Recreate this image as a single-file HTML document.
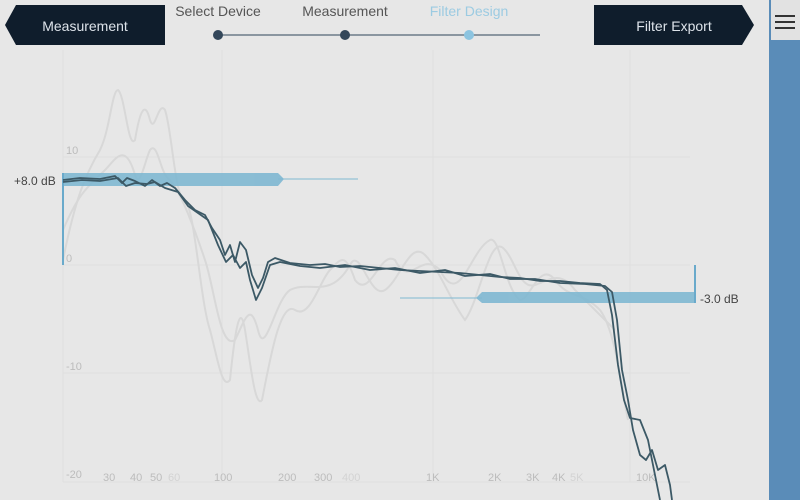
<!DOCTYPE html>
<html><head><style>
body{margin:0;width:800px;height:500px;overflow:hidden;background:#e7e7e7;font-family:"Liberation Sans",sans-serif;}
</style></head><body>
<svg width="800" height="500" viewBox="0 0 800 500" xmlns="http://www.w3.org/2000/svg" style="position:absolute;left:0;top:0">
<rect width="800" height="500" fill="#e7e7e7"/>
<g stroke="#dfdfdf" stroke-width="1">
<line x1="63" y1="157" x2="690" y2="157"/><line x1="63" y1="265" x2="690" y2="265"/><line x1="63" y1="373" x2="690" y2="373"/><line x1="63" y1="482" x2="690" y2="482"/>
<line x1="63" y1="50" x2="63" y2="482"/><line x1="222" y1="50" x2="222" y2="482"/><line x1="433" y1="50" x2="433" y2="482"/><line x1="630" y1="50" x2="630" y2="482"/>
</g>
<g font-size="11" fill="#bcbcbc">
<text x="66" y="154">10</text><text x="66" y="262">0</text><text x="66" y="370">-10</text><text x="66" y="478">-20</text>
<text x="103" y="481">30</text><text x="130" y="481">40</text><text x="150" y="481">50</text><text x="168" y="481" fill="#d3d3d3">60</text>
<text x="214" y="481">100</text><text x="278" y="481">200</text><text x="314" y="481">300</text><text x="342" y="481" fill="#d3d3d3">400</text>
<text x="426" y="481">1K</text><text x="488" y="481">2K</text><text x="526" y="481">3K</text><text x="552" y="481">4K</text><text x="570" y="481" fill="#d3d3d3">5K</text><text x="636" y="481">10K</text>
</g>
<g fill="none" stroke="#d8d8d8" stroke-width="2">
<path d="M63,260 C75,200 85,175 100,150 C110,130 112,90 118,90 C125,95 128,150 135,140 C140,110 145,100 150,120 C155,135 158,100 165,110 C172,130 175,200 185,200 C195,210 200,300 210,330 C218,360 222,390 230,380 C235,330 240,300 245,330 C250,360 255,410 262,400 C270,360 280,300 295,310 C310,320 320,280 330,270 C340,260 345,250 355,280 C370,300 380,250 395,260 C410,290 420,250 440,270 C460,310 470,250 490,240 C500,235 505,290 520,300 C530,300 540,260 555,280 C570,300 580,290 600,310 C615,330 620,380 628,420"/>
<path d="M63,230 C80,190 90,185 105,170 C115,160 125,140 135,175 C140,190 145,160 150,150 C158,140 160,175 170,180 C180,190 195,230 205,260 C215,290 220,350 235,340 C245,320 250,300 258,330 C265,360 275,300 290,290 C310,280 330,300 350,265 C360,245 370,300 385,290 C400,280 410,240 425,255 C440,270 450,300 465,320 C480,300 490,230 505,250 C515,260 520,290 535,285 C550,280 560,270 575,290 C590,305 600,315 615,330"/>
</g>
<g opacity="0.9">
<rect x="63" y="173" width="215" height="13" fill="#7fb8d2"/>
<path d="M278,173 L284,179 L278,186 Z" fill="#7fb8d2"/>
<rect x="482" y="292" width="213" height="11" fill="#7fb8d2"/>
<path d="M482,292 L476,298 L482,303 Z" fill="#7fb8d2"/>
</g>
<line x1="278" y1="179" x2="358" y2="179" stroke="#7fb8d2" stroke-width="1"/>
<line x1="63" y1="173" x2="63" y2="265" stroke="#6aaacb" stroke-width="2"/>
<line x1="400" y1="298" x2="482" y2="298" stroke="#7fb8d2" stroke-width="1"/>
<line x1="695" y1="265" x2="695" y2="303" stroke="#6aaacb" stroke-width="2"/>
<text x="14" y="185" font-size="12" fill="#444">+8.0 dB</text>
<text x="700" y="303" font-size="12" fill="#444">-3.0 dB</text>
<g fill="none" stroke="#3c5966" stroke-width="1.8" stroke-linejoin="round">
<path d="M63,180 L80,178 L100,179 L115,176 L122,183 L127,178 L135,181 L145,186 L152,180 L160,186 L167,183 L175,188 L185,200 L195,210 L205,215 L212,228 L220,240 L225,255 L230,245 L235,262 L240,242 L246,250 L252,275 L258,288 L263,278 L268,262 L275,258 L290,263 L310,265 L325,264 L340,267 L360,266 L380,268 L400,270 L420,271 L440,272 L460,273 L480,275 L500,277 L520,278 L540,281 L560,281 L580,283 L600,284 L607,290 L612,315 L618,365 L624,400 L630,418 L640,420 L648,440 L655,475 L660,500"/>
<path d="M63,182 L82,180 L100,181 L118,178 L126,186 L135,183 L147,184 L155,182 L165,188 L178,192 L188,206 L198,213 L208,220 L218,245 L226,262 L233,255 L240,268 L246,262 L250,280 L256,300 L262,288 L270,265 L280,262 L300,266 L320,268 L345,265 L370,270 L395,268 L420,273 L445,270 L465,276 L490,274 L510,279 L535,279 L560,283 L585,284 L605,286 L612,292 L617,320 L622,370 L628,400 L633,430 L640,455 L646,460 L652,450 L658,470 L665,465 L670,485 L672,500"/>
</g>
<path d="M16,5 L165,5 L165,45 L16,45 L5,25 Z" fill="#0f1d2c"/>
<text x="85" y="31" font-size="14" fill="#dde3ea" text-anchor="middle">Measurement</text>
<path d="M594,5 L742,5 L754,25 L742,45 L594,45 Z" fill="#0f1d2c"/>
<text x="674" y="31" font-size="14" fill="#dde3ea" text-anchor="middle">Filter Export</text>
<text x="218" y="16" font-size="14" fill="#555" text-anchor="middle">Select Device</text>
<text x="345" y="16" font-size="14" fill="#555" text-anchor="middle">Measurement</text>
<text x="469" y="16" font-size="14" fill="#9ccbe2" text-anchor="middle">Filter Design</text>
<line x1="218" y1="35" x2="540" y2="35" stroke="#6d7c88" stroke-width="1.5"/>
<circle cx="218" cy="35" r="5" fill="#33475a"/><circle cx="345" cy="35" r="5" fill="#33475a"/><circle cx="469" cy="35" r="5" fill="#8cc4e0"/>
<rect x="769" y="0" width="31" height="500" fill="#5a8cb8"/>
<rect x="771" y="0" width="29" height="40" fill="#e2e2e2"/>
<g stroke="#333" stroke-width="2"><line x1="775" y1="16" x2="795" y2="16"/><line x1="775" y1="22" x2="795" y2="22"/><line x1="775" y1="28" x2="795" y2="28"/></g>
</svg>
</body></html>
